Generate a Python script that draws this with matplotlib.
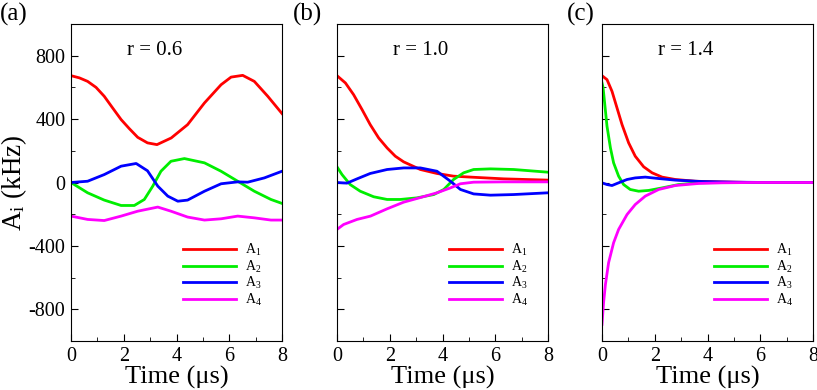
import matplotlib
matplotlib.use('Agg')
import matplotlib.pyplot as plt
from matplotlib.ticker import MultipleLocator

plt.rcParams['font.family'] = ['Liberation Serif', 'DejaVu Serif']
plt.rcParams['mathtext.fontset'] = 'custom'
plt.rcParams['mathtext.rm'] = 'Liberation Serif'
plt.rcParams['mathtext.it'] = 'Liberation Serif:italic'
plt.rcParams['axes.unicode_minus'] = False

# panel (a), r = 0.6
ta1 = [0, 0.32, 0.63, 0.95, 1.26, 1.58, 1.9, 2.21, 2.53, 2.9, 3.26, 3.8, 4.42,
       5.06, 5.69, 6.07, 6.51, 6.95, 7.46, 8.0]
a1_1 = [674, 660, 638, 600, 544, 470, 397, 340, 285, 250, 239, 281, 365,
        502, 617, 665, 676, 638, 544, 435]
ta2 = [0, 0.63, 1.26, 1.9, 2.4, 2.78, 3.1, 3.41, 3.79, 4.3, 5.06, 5.69,
       6.32, 6.95, 7.58, 8.0]
a1_2 = [0, -65, -111, -145, -145, -107, -23, 71, 134, 151, 124, 71,
        8, -55, -107, -132]
ta3 = [0, 0.63, 1.26, 1.9, 2.47, 2.9, 3.29, 3.67, 4.05, 4.42, 5.06, 5.69,
       6.32, 6.7, 7.33, 8.0]
a1_3 = [0, 8, 50, 103, 120, 74, -23, -86, -118, -111, -55, -8,
        4, 2, 29, 71]
ta4 = [0, 0.63, 1.26, 1.9, 2.53, 3.29, 3.79, 4.42, 5.06, 5.69, 6.32, 6.95,
       7.58, 8.0]
a1_4 = [-212, -233, -240, -212, -181, -155, -181, -218, -237, -229, -212, -223,
        -237, -237]

# panel (b), r = 1.0
tb1 = [0, 0.32, 0.63, 0.95, 1.26, 1.58, 1.9, 2.21, 2.53, 3.16, 3.79, 4.42,
       5.06, 6.32, 8.0]
b_1 = [674, 628, 554, 460, 365, 281, 218, 166, 130, 82, 57, 40,
       34, 23, 15]
tb2 = [0, 0.19, 0.5, 0.88, 1.39, 1.9, 2.4, 3.03, 3.67, 4.05, 4.42, 4.8,
       5.18, 5.82, 6.7, 8.0]
b_2 = [99, 50, -13, -55, -90, -107, -107, -97, -76, -44, 19, 61,
       82, 86, 82, 65]
tb3 = [0, 0.38, 0.76, 1.26, 1.9, 2.53, 3.16, 3.79, 4.3, 4.68, 5.18, 5.82,
       6.7, 8.0]
b_3 = [0, -4, 23, 57, 82, 92, 92, 71, 8, -44, -72, -80,
       -76, -65]
tb4 = [0, 0.25, 0.76, 1.27, 1.9, 2.53, 3.16, 3.79, 4.3, 4.68, 5.18, 6.32, 8.0]
b_4 = [-296, -265, -233, -212, -166, -124, -95, -65, -34, -8, 2, 4, 4]

# panel (c), r = 1.4
tc1 = [0, 0.19, 0.38, 0.57, 0.76, 1.01, 1.26, 1.58, 1.9, 2.28, 2.78, 3.54,
       4.42, 5.7, 8.0]
c_1 = [674, 649, 575, 470, 365, 250, 166, 99, 61, 34, 19, 8,
       4, 0, 0]
tc2 = [0, 0.04, 0.1, 0.19, 0.32, 0.44, 0.63, 0.82, 1.07, 1.39, 1.77, 2.28,
       2.9, 3.67, 4.42, 8.0]
c_2 = [628, 600, 502, 355, 218, 124, 40, -13, -44, -55, -50, -34,
       -13, -2, 0, 0]
tc3 = [0, 0.19, 0.38, 0.63, 0.95, 1.26, 1.64, 2.15, 2.78, 3.79, 5.06, 6.3, 8.0]
c_3 = [-2, -13, -19, -2, 19, 29, 34, 25, 15, 6, 2, 0, 0]
tc4 = [0, 0.06, 0.13, 0.25, 0.44, 0.63, 0.95, 1.26, 1.64, 2.15, 2.78, 3.67,
       4.55, 5.7, 8.0]
c_4 = [-895, -758, -643, -506, -380, -296, -202, -139, -86, -44, -19, -6,
       -2, 0, 0]

labels = [r'A$_1$', r'A$_2$', r'A$_3$', r'A$_4$']
colors = ['#ff0000', '#00ee00', '#0000ff', '#ff00ff']

panels = [
    ('(a)', 'r = 0.6', [(ta1, a1_1), (ta2, a1_2), (ta3, a1_3), (ta4, a1_4)]),
    ('(b)', 'r = 1.0', [(tb1, b_1), (tb2, b_2), (tb3, b_3), (tb4, b_4)]),
    ('(c)', 'r = 1.4', [(tc1, c_1), (tc2, c_2), (tc3, c_3), (tc4, c_4)]),
]

fig = plt.figure(figsize=(8.17, 3.9), dpi=100)
lefts = [71, 337, 602]
tagx = [0, 293, 567]
for k, (tag, rtxt, series) in enumerate(panels):
    ax = fig.add_axes([lefts[k] / 817, 1 - 341 / 390, 211 / 817, 317 / 390])
    for (t, v), c, lab in zip(series, colors, labels):
        ax.plot(t, v, color=c, lw=2, label=lab, solid_joinstyle='round')
    ax.set_xlim(0, 8)
    ax.set_ylim(-1000, 1000)
    ax.xaxis.set_major_locator(MultipleLocator(2))
    ax.xaxis.set_minor_locator(MultipleLocator(1))
    ax.yaxis.set_major_locator(MultipleLocator(400))
    ax.yaxis.set_minor_locator(MultipleLocator(200))
    ax.tick_params(which='both', direction='in', labelsize=14.5, top=False, right=False)
    ax.tick_params(which='major', length=5, pad=4)
    ax.tick_params(which='minor', length=3)
    ax.set_xlabel('Time (μs)', fontsize=19, labelpad=0)
    if k == 0:
        ax.set_ylabel(r'A$_\mathrm{i}$ (kHz)', fontsize=19.5)
        ax.yaxis.set_label_coords(-0.2, 0.5)
    else:
        ax.set_yticklabels([])
    ax.text(0.265, 0.915, rtxt, transform=ax.transAxes, fontsize=15, va='center')
    ax.legend(loc='upper left', bbox_to_anchor=(0.5, 0.335), frameon=False,
              fontsize=10, handlelength=3.8, labelspacing=0.05, borderpad=0,
              handletextpad=0.6)
    fig.text(tagx[k] / 817, 0.962, tag, fontsize=18, va='center', ha='left')

fig.savefig('out.png', dpi=100)
